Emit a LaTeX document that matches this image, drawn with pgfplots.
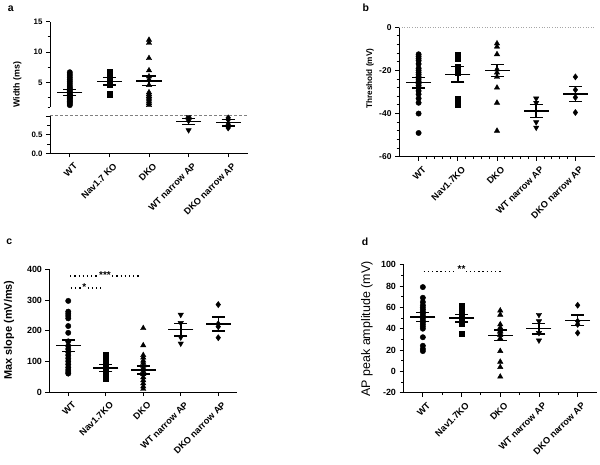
\documentclass[border=0pt]{standalone}
\usepackage{fontspec}
\setmainfont{Liberation Sans}
\usepackage{pgfplots}
\pgfplotsset{compat=1.18}

\pgfplotsset{
  base/.style={
    scale only axis, clip=false,
    xmin=-0.5, xmax=4.5, xtick={0,1,2,3,4},
    axis x line*=bottom, axis y line*=left,
    axis line style={line width=0.9bp, black},
    tick style={line width=0.9bp, black},
    tick align=outside, major tick length=4bp, minor tick length=2.5bp,
    xticklabel style={rotate=45, anchor=north east, inner sep=1pt, yshift=-5bp,
      font=\fontsize{9.2}{10}\selectfont\bfseries},
  },
  pts/.style={only marks, black, forget plot},
  circ/.style={pts, mark=*, mark size=2.7bp},
  sq/.style={pts, mark=square*, mark size=2.6bp},
  tri/.style={pts, mark=triangle*, mark size=3.1bp},
  itri/.style={pts, mark=triangle*, mark size=3.1bp, mark options={rotate=180}},
  dia/.style={pts, mark=diamond*, mark size=3.1bp},
  msem/.style={only marks, black, forget plot, mark=-, mark size=12.5bp,
    mark options={line width=1.5bp},
    error bars/.cd, y dir=both, y explicit,
    error bar style={line width=1.5bp, black},
    error mark=-, error mark options={rotate=90, line width=1.5bp, mark size=6.5bp, black}},
  sig/.style={black, forget plot, line width=1.3bp, dash pattern=on 1.3bp off 2.9bp},
}

\begin{document}
\begin{tikzpicture}
\useasboundingbox (0,0) rectangle (600bp,465bp);

% ---------------- panel a (upper) ----------------
\begin{axis}[base, at={(50bp,358bp)}, anchor=south west,
  width=198bp, height=85.4bp,
  axis x line=none,
  ymin=1, ymax=15, ytick={5,10,15}, yticklabels={5,10,15},
  minor ytick={1,2.5,7.5,12.5},
  yticklabel style={font=\fontsize{7.9}{9}\selectfont\bfseries}]
\addplot[circ] coordinates {(0,1.3)(0,1.5)(0,1.7)(0,1.9)(0,2.0)(0,2.2)(0,2.4)(0,2.5)(0,2.6)(0,2.8)(0,2.9)(0,3.0)(0,3.1)(0,3.3)(0,3.5)(0,3.7)(0,3.9)(0,4.1)(0,4.3)(0,4.6)(0,4.9)(0,5.2)(0,5.5)(0,5.8)(0,6.1)(0,6.4)(0,6.7)};
\addplot[sq] coordinates {(1,3.1)(1,4.6)(1,4.9)(1,5.1)(1,5.4)(1,5.7)(1,6.0)(1,6.3)(1,6.6)(1,6.8)};
\addplot[tri] coordinates {(2,12.0)(2,11.5)(2,9.0)(2,7.0)(2,6.0)(2,5.5)(2,4.6)(2,3.4)(2,3.1)(2,2.8)(2,2.5)(2,2.2)(2,1.9)(2,1.6)(2,1.3)};
\addplot[msem] coordinates {(0,3.4) +- (0,0.5) (1,5.2) +- (0,0.6) (2,5.3) +- (0,0.8)};
\end{axis}

% ---------------- panel a (lower) ----------------
\begin{axis}[base, at={(50bp,311.7bp)}, anchor=south west,
  width=198bp, height=37.3bp,
  ymin=0, ymax=1, ytick={0,0.5,1}, yticklabels={0.0,0.5,},
  minor ytick={0.25,0.75},
  yticklabel style={font=\fontsize{7.9}{9}\selectfont\bfseries},
  xticklabels={WT,Nav1.7 KO,DKO,WT narrow AP,DKO narrow AP}]
\addplot[gray, densely dashed, line width=0.5bp, forget plot] coordinates {(-0.5,1.02) (4.5,1.02)};
\addplot[itri] coordinates {(3,0.97)(3,0.92)(3,0.87)(3,0.62)};
\addplot[dia] coordinates {(4,0.95)(4,0.90)(4,0.78)(4,0.72)(4,0.68)};
\addplot[msem] coordinates {(3,0.85) +- (0,0.08) (4,0.82) +- (0,0.09)};
\end{axis}

% ---------------- panel b ----------------
\begin{axis}[base, at={(399bp,308.3bp)}, anchor=south west,
  width=196bp, height=129.4bp,
  ymin=-60, ymax=0, ytick={-60,-40,-20,0}, yticklabels={-60,-40,-20,0},
  minor tick num=4,
  yticklabel style={font=\fontsize{8.5}{9}\selectfont\bfseries},
  xticklabels={WT,Nav1.7KO,DKO,WT narrow AP,DKO narrow AP}]
\addplot[gray!70, dotted, line width=0.6bp, forget plot] coordinates {(-0.5,0) (4.5,0)};
\addplot[circ] coordinates {(0,-12.5)(0,-13.5)(0,-14.5)(0,-15.5)(0,-17)(0,-19)(0,-20)(0,-21)(0,-22)(0,-23)(0,-24)(0,-25)(0,-26)(0,-27)(0,-28)(0,-29.5)(0,-31)(0,-33)(0,-35)(0,-40)(0,-49)};
\addplot[sq] coordinates {(1,-12.8)(1,-14.5)(1,-18.5)(1,-19.5)(1,-21)(1,-33)(1,-36)};
\addplot[tri] coordinates {(2,-7.5)(2,-9)(2,-12.5)(2,-19.5)(2,-21)(2,-23)(2,-28)(2,-35)(2,-48)};
\addplot[itri] coordinates {(3,-33)(3,-35)(3,-44)(3,-46.5)};
\addplot[dia] coordinates {(4,-23)(4,-29)(4,-32.5)(4,-39.5)};
\addplot[msem] coordinates {(0,-25.7) +- (0,2.5) (1,-21.8) +- (0,3.6) (2,-20.1) +- (0,2.8) (3,-38.8) +- (0,3.0) (4,-30.9) +- (0,3.5)};
\end{axis}

% ---------------- panel c ----------------
\begin{axis}[base, at={(49.5bp,73bp)}, anchor=south west,
  width=187.5bp, height=122.7bp,
  ymin=0, ymax=400, ytick={0,100,200,300,400}, yticklabels={0,100,200,300,400},
  yticklabel style={font=\fontsize{9}{10}\selectfont\bfseries},
  xticklabels={WT,Nav1.7KO,DKO,WT narrow AP,DKO narrow AP}]
\addplot[circ] coordinates {(0,297)(0,262)(0,255)(0,248)(0,240)(0,215)(0,193)(0,165)(0,150)(0,140)(0,130)(0,120)(0,110)(0,100)(0,90)(0,80)(0,72)(0,65)(0,60)};
\addplot[sq] coordinates {(1,120)(1,115)(1,105)(1,95)(1,90)(1,85)(1,80)(1,75)(1,70)(1,65)(1,60)(1,55)(1,50)(1,45)};
\addplot[tri] coordinates {(2,208)(2,152)(2,120)(2,112)(2,102)(2,95)(2,85)(2,78)(2,68)(2,58)(2,48)(2,38)(2,28)(2,18)(2,10)};
\addplot[itri] coordinates {(3,252)(3,225)(3,178)(3,158)};
\addplot[dia] coordinates {(4,285)(4,222)(4,213)(4,177)};
\addplot[msem] coordinates {(0,151) +- (0,19) (1,78) +- (0,11) (2,71) +- (0,13) (3,203) +- (0,21) (4,222) +- (0,23)};
\addplot[sig] coordinates {(0.05,378) (1.9,378)};
\addplot[sig] coordinates {(0.07,339) (0.86,339)};
\node[fill=white, inner sep=0.6pt, font=\fontsize{10}{10}\selectfont\bfseries] at (axis cs:0.98,380) {***};
\node[fill=white, inner sep=0.6pt, font=\fontsize{10}{10}\selectfont\bfseries] at (axis cs:0.43,341) {*};
\end{axis}

% ---------------- panel d ----------------
\begin{axis}[base, at={(403.5bp,72.3bp)}, anchor=south west,
  width=193.5bp, height=128bp,
  ymin=-20, ymax=100, ytick={-20,0,20,40,60,80,100}, yticklabels={-20,0,20,40,60,80,100},
  minor tick num=1,
  yticklabel style={font=\fontsize{9}{10}\selectfont\bfseries},
  xticklabels={WT,Nav1.7KO,DKO,WT narrow AP,DKO narrow AP}]
\addplot[circ] coordinates {(0,79)(0,69)(0,65)(0,62)(0,60)(0,58)(0,56)(0,54)(0,52)(0,50)(0,48)(0,46)(0,44)(0,42)(0,40)(0,32)(0,24)(0,21)(0,19)};
\addplot[sq] coordinates {(1,61)(1,59)(1,57)(1,55)(1,53)(1,51)(1,49)(1,47)(1,45)(1,35)};
\addplot[tri] coordinates {(2,57)(2,53)(2,44)(2,41)(2,38)(2,37)(2,35)(2,34)(2,31)(2,19)(2,9)(2,4)(2,-5)};
\addplot[itri] coordinates {(3,53)(3,47)(3,36)(3,29)};
\addplot[dia] coordinates {(4,62)(4,47)(4,44)(4,36)};
\addplot[msem] coordinates {(0,51) +- (0,4.2) (1,50) +- (0,3.5) (2,33.8) +- (0,5) (3,40) +- (0,4.8) (4,47.8) +- (0,5)};
\addplot[sig] coordinates {(0.02,93.8) (2.02,93.8)};
\node[fill=white, inner sep=0.6pt, font=\fontsize{10}{10}\selectfont\bfseries] at (axis cs:1.0,96) {**};
\end{axis}

% ---------------- labels ----------------
\node[font=\fontsize{10.5}{12}\selectfont\bfseries] at (10.7bp,456.7bp) {a};
\node[font=\fontsize{10.5}{12}\selectfont\bfseries] at (365.7bp,457.7bp) {b};
\node[font=\fontsize{10.5}{12}\selectfont\bfseries] at (9.3bp,223bp) {c};
\node[font=\fontsize{10.5}{12}\selectfont\bfseries] at (365bp,223.7bp) {d};

\node[rotate=90, font=\fontsize{8.9}{10}\selectfont\bfseries] at (17.3bp,380.5bp) {Width (ms)};
\node[rotate=90, font=\fontsize{8.2}{9}\selectfont\bfseries] at (370bp,386.3bp) {Threshold (mV)};
\node[rotate=90, font=\fontsize{11}{12}\selectfont\bfseries] at (9bp,135bp) {Max slope (mV/ms)};
\node[rotate=90, font=\fontsize{12.5}{14}\selectfont] at (367bp,136bp) {AP peak amplitude (mV)};
\end{tikzpicture}
\end{document}
